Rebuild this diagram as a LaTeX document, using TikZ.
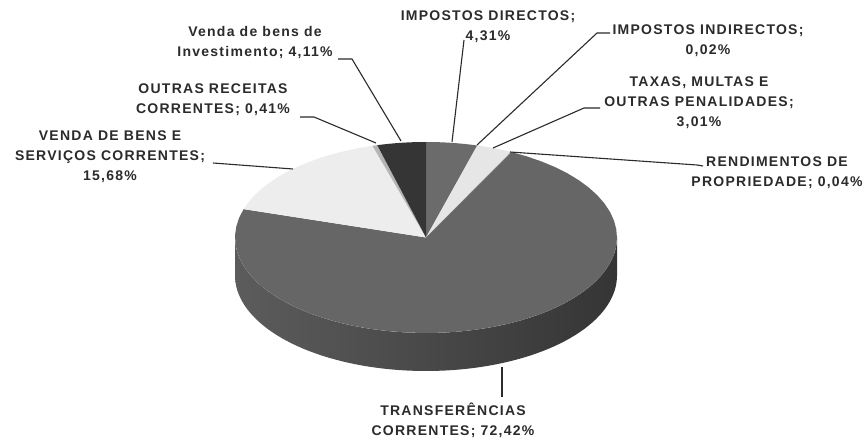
\documentclass[tikz,border=0pt]{standalone}
\usepackage{fontspec}
\setmainfont{Liberation Sans}
\newfontfamily\lblfont[LetterSpace=9]{Liberation Sans}
\definecolor{txt}{HTML}{2B2B2B}
\definecolor{cdir}{HTML}{6B6B6B}
\definecolor{cind}{HTML}{8A8A8A}
\definecolor{ctax}{HTML}{E6E6E6}
\definecolor{cren}{HTML}{9A9A9A}
\definecolor{ctra}{HTML}{666666}
\definecolor{cvbs}{HTML}{EDEDED}
\definecolor{cout}{HTML}{B5B5B5}
\definecolor{cinv}{HTML}{353535}
\definecolor{sidea}{HTML}{5C5C5C}
\definecolor{sideb}{HTML}{545454}
\definecolor{sidec}{HTML}{353535}
\newcommand\pieslice[3]{\fill[#3] (C) -- plot[domain=#1:#2,samples=50] ({\cx+\rx*sin(\x)},{\cy-\ry*cos(\x)}) -- cycle;}
\begin{document}
\begin{tikzpicture}[x=1pt,y=-1pt,
  lbl/.style={font=\lblfont\bfseries\fontsize{14}{20}\selectfont, text=txt, align=center, inner sep=0pt},
  leader/.style={draw=txt, line width=1.1pt, line join=round}]
\useasboundingbox (0,0) rectangle (866,443);
\fill[white] (0,0) rectangle (866,443);
\def\cx{426}\def\cy{237.5}\def\rx{191}\def\ry{95.5}\def\dep{38}
\coordinate (C) at (\cx,\cy);
% side of the pie
\shade[left color=sidea, middle color=sideb, right color=sidec]
  plot[domain=90:270,samples=80] ({\cx+\rx*sin(\x)},{\cy-\ry*cos(\x)})
  -- plot[domain=270:90,samples=80] ({\cx+\rx*sin(\x)},{\cy+\dep-\ry*cos(\x)}) -- cycle;
% top slices
\pieslice{0}{15.516}{cdir}
\pieslice{15.516}{15.588}{cind}
\pieslice{15.588}{26.424}{ctax}
\pieslice{26.424}{26.568}{cren}
\pieslice{26.568}{287.28}{ctra}
\pieslice{287.28}{343.728}{cvbs}
\pieslice{343.728}{345.204}{cout}
\pieslice{345.204}{360}{cinv}
% labels
\node[lbl] (inv) at (255,43) {Venda de bens de\\Investimento; 4,11\%};
\node[lbl] (out) at (213,100) {OUTRAS RECEITAS\\CORRENTES; 0,41\%};
\node[lbl] (vbs) at (110,157) {VENDA DE BENS E\\SERVIÇOS CORRENTES;\\15,68\%};
\node[lbl] (dir) at (488,27) {IMPOSTOS DIRECTOS;\\4,31\%};
\node[lbl] (ind) at (708,41) {IMPOSTOS INDIRECTOS;\\0,02\%};
\node[lbl] (tax) at (699,103) {TAXAS, MULTAS E\\OUTRAS PENALIDADES;\\3,01\%};
\node[lbl] (ren) at (777,173) {RENDIMENTOS DE\\PROPRIEDADE; 0,04\%};
\node[lbl] (tra) at (453,420) {TRANSFERÊNCIAS\\CORRENTES; 72,42\%};
% leader ends
\coordinate (invA) at (338,59); \coordinate (invB) at (352,59); \coordinate (invP) at (401,141);
\coordinate (outA) at (300,117); \coordinate (outB) at (314,117); \coordinate (outP) at (376,143);
\coordinate (vbsA) at (213,163); \coordinate (vbsP) at (293,169);
\coordinate (dirA) at (464,40); \coordinate (dirP) at (452,142);
\coordinate (indA) at (610,33); \coordinate (indB) at (597,33); \coordinate (indP) at (477,145);
\coordinate (taxA) at (600,108); \coordinate (taxB) at (584,108); \coordinate (taxP) at (493,148);
\coordinate (renA) at (703,166); \coordinate (renB) at (697,165); \coordinate (renP) at (510,152);
\coordinate (traA) at (502,397); \coordinate (traP) at (502,367);
\draw[leader] (invA) -- (invB) -- (invP);
\draw[leader] (outA) -- (outB) -- (outP);
\draw[leader] (vbsA) -- (vbsP);
\draw[leader] (dirA) -- (dirP);
\draw[leader] (indA) -- (indB) -- (indP);
\draw[leader] (taxA) -- (taxB) -- (taxP);
\draw[leader] (renA) -- (renB) -- (renP);
\draw[leader] (traA) -- (traP);
\end{tikzpicture}
\end{document}
